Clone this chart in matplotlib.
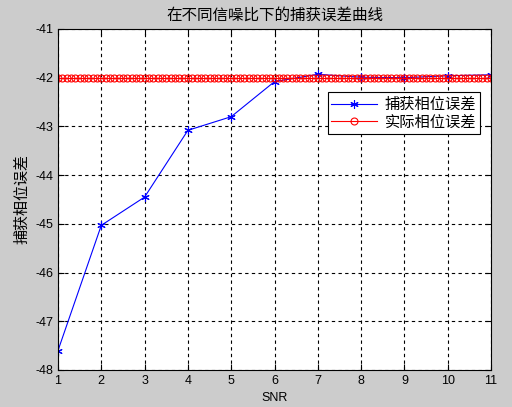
import numpy as np
import matplotlib
matplotlib.use("Agg")
import matplotlib.pyplot as plt

plt.rcParams['font.family'] = ['Liberation Sans', 'Noto Sans CJK SC', 'DejaVu Sans']
plt.rcParams['axes.unicode_minus'] = False

snr = [1, 2, 3, 4, 5, 6, 7, 8, 9, 10, 11]
capture_err = [-47.6, -45.03, -44.45, -43.08, -42.8, -42.08, -41.93, -41.99, -42.0, -41.96, -41.94]
actual_x = np.round(np.arange(1, 11.0001, 0.1), 1)
actual_err = [-42.0] * len(actual_x)

title = '在不同信噪比下的捕获误差曲线'
xlabel = 'SNR'
ylabel = '捕获相位误差'
legend_labels = ['捕获相位误差', '实际相位误差']

cjk = ['Noto Sans CJK SC', 'DejaVu Sans']

fig = plt.figure(figsize=(5.12, 4.07), dpi=100, facecolor='#cccccc')
ax = fig.add_axes([58/512, 1-370/407, 433/512, 341/407])
ax.set_facecolor('white')

ax.plot(snr, capture_err, color='blue', marker=(6, 2, 0), markersize=6, markeredgewidth=0.8,
        linewidth=0.8, label=legend_labels[0])
ax.plot(actual_x, actual_err, color='red', marker='o', markersize=5, markerfacecolor='none',
        markeredgewidth=0.8, linewidth=0.8, label=legend_labels[1])

ax.set_xlim(1, 11)
ax.set_ylim(-48, -41)
ax.set_xticks(range(1, 12))
ax.set_yticks(range(-48, -40))
ax.grid(True, color='black', linestyle=(0, (3, 3)), linewidth=0.8)
ax.tick_params(direction='in', length=4, labelsize=9, top=True, right=True, colors='black')
for s in ax.spines.values():
    s.set_linewidth(0.8)

ax.set_title(title, fontsize=11.2, pad=7, family=cjk)
ax.set_xlabel(xlabel, fontsize=9, labelpad=4)
ax.set_ylabel(ylabel, fontsize=10.8, labelpad=4, family=cjk)

leg = ax.legend(loc='upper right', bbox_to_anchor=(0.975, 0.815), borderaxespad=0,
                fancybox=False, framealpha=1,
                edgecolor='black', borderpad=0.25, handlelength=3.0, labelspacing=0.05,
                handletextpad=0.5, prop={'family': cjk, 'size': 11})
leg.get_frame().set_linewidth(0.8)

fig.savefig('out.png', dpi=100, facecolor=fig.get_facecolor())
